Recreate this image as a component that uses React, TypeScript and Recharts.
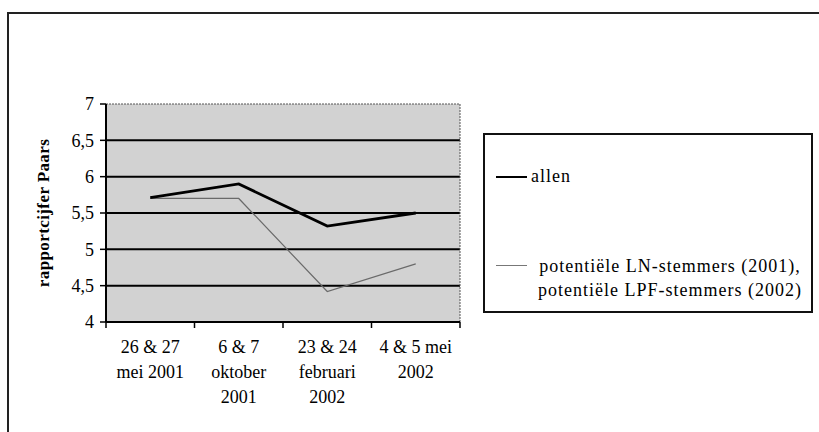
import React from "react";
import {
  LineChart,
  Line,
  XAxis,
  YAxis,
  CartesianGrid,
  Legend,
  ReferenceLine,
  Label,
} from "recharts";

const categoryLabels: string[][] = [
  ["26 & 27", "mei 2001"],
  ["6 & 7", "oktober", "2001"],
  ["23 & 24", "februari", "2002"],
  ["4 & 5 mei", "2002"],
];
const allenValues = [5.71, 5.9, 5.32, 5.5];
const potentieelValues = [5.7, 5.7, 4.42, 4.8];
const yTicks = [4, 4.5, 5, 5.5, 6, 6.5, 7];
const gridValues = [4.5, 5, 5.5, 6, 6.5];
const xTicks = [0, 0.5, 1, 1.5, 2, 2.5, 3, 3.5, 4];
const seriesNames = ["allen", "potentieel"];
const legendLines: string[][] = [
  ["allen"],
  ["potentiële LN-stemmers (2001),", "potentiële LPF-stemmers (2002)"],
];
const yAxisTitle = "rapportcijfer Paars";

const data = categoryLabels.map((_, i) => ({
  x: i + 0.5,
  allen: allenValues[i],
  potentieel: potentieelValues[i],
}));

const FONT = "'Liberation Serif', 'DejaVu Serif', serif";

const XTick = (props: any) => {
  const { x, y, payload } = props;
  const v = payload.value as number;
  if (Number.isInteger(v)) {
    return <line x1={x} x2={x} y1={y} y2={y + 6} stroke="#000" strokeWidth={1.5} />;
  }
  const lines = categoryLabels[Math.floor(v)] || [];
  return (
    <g>
      {lines.map((t, i) => (
        <text
          key={i}
          x={x}
          y={y + 31 + i * 25}
          textAnchor="middle"
          fontFamily={FONT}
          fontSize={18}
          fill="#000"
        >
          {t}
        </text>
      ))}
    </g>
  );
};

const LegendContent = (props: any) => {
  const payload = props.payload || [];
  return (
    <div style={{ position: "relative", width: "100%", height: "100%", fontFamily: FONT, fontSize: 18, color: "#000", letterSpacing: 1 }}>
      {payload.map((p: any, i: number) => {
        const idx = seriesNames.indexOf(p.dataKey);
        const lines = legendLines[idx] || [String(p.value)];
        const rowY = idx === 0 ? 42 : 130;
        return (
          <div key={i}>
            <div
              style={{
                position: "absolute",
                left: 11,
                top: rowY - (idx === 0 ? 1 : 0.5),
                width: 31,
                height: idx === 0 ? 2 : 1,
                background: idx === 0 ? "#000" : "#777",
              }}
            />
            {idx === 0 ? (
              <div style={{ position: "absolute", left: 46, top: rowY - 13, lineHeight: "24px" }}>{lines[0]}</div>
            ) : (
              <div
                style={{
                  position: "absolute",
                  left: 40,
                  width: 290,
                  top: rowY - 11,
                  textAlign: "center",
                  lineHeight: "24px",
                }}
              >
                {lines.map((t, k) => (
                  <div key={k}>{t}</div>
                ))}
              </div>
            )}
          </div>
        );
      })}
    </div>
  );
};

export default function App() {
  return (
    <div style={{ position: "absolute", left: 0, top: 0, width: 819, height: 432, background: "#fff", overflow: "hidden" }}>
      <div
        style={{
          position: "absolute",
          left: 7,
          top: 12,
          width: 830,
          height: 440,
          borderLeft: "2px solid #222",
          borderTop: "2px solid #222",
        }}
      />
      <LineChart
        width={819}
        height={432}
        data={data}
        margin={{ top: 104, right: 359, bottom: 0, left: 0 }}
        style={{ position: "absolute", left: 0, top: 0 }}
      >
        <CartesianGrid
          vertical={false}
          horizontalValues={gridValues}
          stroke="#000"
          strokeWidth={2}
          fill="#d2d2d2"
          fillOpacity={1}
        />
        <ReferenceLine y={7} stroke="#555" strokeWidth={1} strokeDasharray="2 1" />
        <ReferenceLine x={4} stroke="#555" strokeWidth={1} strokeDasharray="2 1" />
        <XAxis
          type="number"
          dataKey="x"
          domain={[0, 4]}
          ticks={xTicks}
          interval={0}
          tick={<XTick />}
          tickLine={false}
          tickSize={0}
          tickMargin={0}
          axisLine={{ stroke: "#000", strokeWidth: 2 }}
          height={110}
        />
        <YAxis
          type="number"
          domain={[4, 7]}
          ticks={yTicks}
          interval={0}
          width={106}
          tickFormatter={(v: number) => String(v).replace(".", ",")}
          tick={{ fontFamily: FONT, fontSize: 18, fill: "#000" }}
          tickLine={{ stroke: "#000", strokeWidth: 1.5 }}
          tickSize={6}
          tickMargin={6}
          axisLine={{ stroke: "#000", strokeWidth: 2 }}
        >
          <Label
            value={yAxisTitle}
            angle={-90}
            position="center"
            dx={-10}
            style={{ fontFamily: FONT, fontSize: 17, fontWeight: "bold", letterSpacing: 0.4, fill: "#000" }}
          />
        </YAxis>
        <Line
          dataKey="potentieel"
          stroke="#6a6a6a"
          strokeWidth={1.2}
          dot={false}
          isAnimationActive={false}
        />
        <Line
          dataKey="allen"
          stroke="#000"
          strokeWidth={2.8}
          dot={false}
          isAnimationActive={false}
        />
        <Legend
          layout="horizontal"
          verticalAlign="middle"
          align="center"
          content={<LegendContent />}
          wrapperStyle={{
            position: "absolute",
            left: 483,
            top: 133,
            width: 330,
            height: 180,
            border: "2px solid #111",
            boxSizing: "border-box",
            background: "#fff",
          }}
        />
      </LineChart>
    </div>
  );
}
